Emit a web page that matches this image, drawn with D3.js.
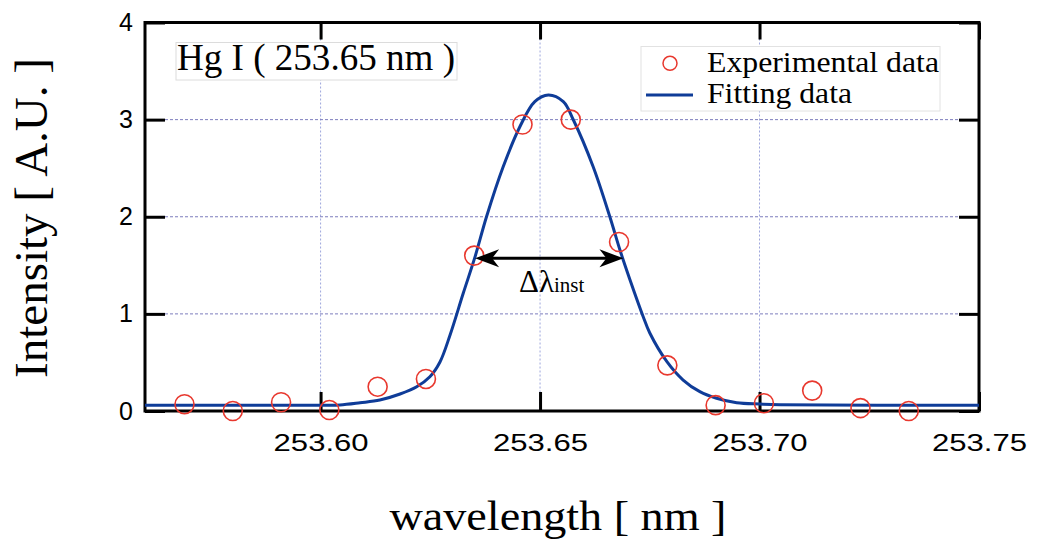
<!DOCTYPE html>
<html>
<head>
<meta charset="utf-8">
<script src="https://cdn.jsdelivr.net/npm/d3@7"></script>
<style>
  body { margin: 0; background: #fff; }
</style>
</head>
<body>
<div id="my_dataviz"></div>
<script>
// measured points (wavelength in nm, intensity in A.U.)
var wavelength = [253.569, 253.580, 253.591, 253.602, 253.613, 253.624, 253.635, 253.646,
                  253.657, 253.668, 253.679, 253.690, 253.701, 253.712, 253.723, 253.734];
var intensity = [0.07, 0.0, 0.09, 0.01, 0.25, 0.33, 1.60, 2.95,
                 3.00, 1.74, 0.47, 0.06, 0.08, 0.21, 0.03, 0.0];

// fitted curve
var fitWavelength = [253.5600, 253.5999, 253.6044, 253.6090, 253.6135, 253.6181, 253.6219, 253.6249,
                     253.6272, 253.6295, 253.6325, 253.6352, 253.6378, 253.6416, 253.6454, 253.6488,
                     253.6519, 253.6553, 253.6576, 253.6621, 253.6659, 253.6682, 253.6705, 253.6735,
                     253.6750, 253.6789, 253.6826, 253.6864, 253.6902, 253.6948, 253.7001, 253.7047,
                     253.7500];
var fitIntensity = [0.060, 0.060, 0.062, 0.085, 0.113, 0.175, 0.250, 0.353,
                    0.505, 0.783, 1.212, 1.589, 2.000, 2.515, 2.927, 3.185,
                    3.254, 3.185, 2.996, 2.515, 2.000, 1.658, 1.349, 0.971,
                    0.803, 0.508, 0.319, 0.199, 0.131, 0.085, 0.072, 0.065,
                    0.060];

// instrumental width arrow
var fwhmRange = [253.6352, 253.6690];
var fwhmLevel = 1.572;

var xTicks = [253.60, 253.65, 253.70, 253.75];
var yTicks = [0, 1, 2, 3, 4];

var margin = { top: 22.5, right: 58, bottom: 134, left: 145 },
    width = 1037 - margin.left - margin.right,
    height = 545 - margin.top - margin.bottom;

var svg = d3
    .select("#my_dataviz")
    .append("svg")
    .attr("width", width + margin.left + margin.right)
    .attr("height", height + margin.top + margin.bottom)
    .append("g")
    .attr("transform", "translate(" + margin.left + "," + margin.top + ")");

var x = d3.scaleLinear().domain([253.56, 253.75]).range([0, width]);
var y = d3.scaleLinear().domain([0, 4]).range([height, 0]);

// grid
svg.selectAll(".vgrid")
    .data(xTicks.slice(0, 3))
    .enter()
    .append("line")
    .attr("x1", function (d) { return x(d); })
    .attr("x2", function (d) { return x(d); })
    .attr("y1", 0)
    .attr("y2", height)
    .style("stroke", "#9ea6dc")
    .style("stroke-width", 1)
    .style("stroke-dasharray", "2,2");

svg.selectAll(".hgrid")
    .data(yTicks.slice(1, 4))
    .enter()
    .append("line")
    .attr("x1", 0)
    .attr("x2", width)
    .attr("y1", function (d) { return y(d); })
    .attr("y2", function (d) { return y(d); })
    .style("stroke", "#7d7dbd")
    .style("stroke-width", 1)
    .style("stroke-dasharray", "3,2");

// axes with inward ticks
var fmt = d3.format(".2f");
var xAxis = svg.append("g")
    .attr("transform", "translate(0," + height + ")")
    .call(d3.axisBottom(x).tickValues(xTicks).tickFormat(fmt).tickSize(-19).tickPadding(23));
var xTop = svg.append("g")
    .call(d3.axisTop(x).tickValues(xTicks).tickFormat("").tickSize(-17));
var yAxis = svg.append("g")
    .call(d3.axisLeft(y).tickValues(yTicks).tickFormat(d3.format("d")).tickSize(-20).tickPadding(12));
var yRight = svg.append("g")
    .attr("transform", "translate(" + width + ",0)")
    .call(d3.axisRight(y).tickValues(yTicks).tickFormat("").tickSize(-20));

[xAxis, xTop, yAxis, yRight].forEach(function (a) {
    a.select(".domain").remove();
    a.selectAll(".tick line").style("stroke", "#000").style("stroke-width", 3);
});
xAxis.selectAll("text")
    .style("font-family", "'Liberation Sans', Arial, sans-serif")
    .style("font-size", "24px")
    .attr("textLength", 95)
    .attr("lengthAdjust", "spacingAndGlyphs")
    .attr("x", -47.5)
    .style("text-anchor", "start")
    .attr("fill", "#000");
yAxis.selectAll("text")
    .style("font-family", "'Liberation Sans', Arial, sans-serif")
    .style("font-size", "25px")
    .attr("fill", "#000");

// frame
svg.append("rect")
    .attr("x", 0)
    .attr("y", 0)
    .attr("width", width)
    .attr("height", height)
    .style("fill", "none")
    .style("stroke", "#000")
    .style("stroke-width", 3);

// fitted line
var line = d3.line()
    .x(function (d, i) { return x(fitWavelength[i]); })
    .y(function (d) { return y(d); })
    .curve(d3.curveCatmullRom.alpha(0.5));

svg.append("path")
    .datum(fitIntensity)
    .attr("d", line)
    .style("fill", "none")
    .style("stroke", "#0f3c98")
    .style("stroke-width", 3);

// experimental points
svg.selectAll(".pt")
    .data(intensity)
    .enter()
    .append("circle")
    .attr("cx", function (d, i) { return x(wavelength[i]); })
    .attr("cy", function (d) { return y(d); })
    .attr("r", 9.5)
    .style("fill", "none")
    .style("stroke", "#e8382e")
    .style("stroke-width", 1.6);

// title box
var serif = "'Liberation Serif', 'Times New Roman', serif";
svg.append("rect")
    .attr("x", 31)
    .attr("y", 20)
    .attr("width", 281)
    .attr("height", 37.5)
    .style("fill", "#fff")
    .style("stroke", "#dcdcdc")
    .style("stroke-width", 1);
svg.append("text")
    .attr("x", 32)
    .attr("y", 47.5)
    .style("font-family", serif)
    .style("font-size", "37px")
    .attr("textLength", 278)
    .attr("lengthAdjust", "spacingAndGlyphs")
    .text("Hg I ( 253.65 nm )");

// legend
var legend = svg.append("g").attr("transform", "translate(496,24)");
legend.append("rect")
    .attr("width", 299)
    .attr("height", 64.5)
    .style("fill", "#fff")
    .style("stroke", "#e2e2e2")
    .style("stroke-width", 1);
legend.append("circle")
    .attr("cx", 29)
    .attr("cy", 16.8)
    .attr("r", 7)
    .style("fill", "none")
    .style("stroke", "#e8382e")
    .style("stroke-width", 1.5);
legend.append("line")
    .attr("x1", 5)
    .attr("x2", 52)
    .attr("y1", 48.5)
    .attr("y2", 48.5)
    .style("stroke", "#0f3c98")
    .style("stroke-width", 3);
legend.append("text")
    .attr("x", 66)
    .attr("y", 25.5)
    .style("font-family", serif)
    .style("font-size", "30px")
    .attr("textLength", 232)
    .attr("lengthAdjust", "spacingAndGlyphs")
    .text("Experimental data");
legend.append("text")
    .attr("x", 66)
    .attr("y", 56.5)
    .style("font-family", serif)
    .style("font-size", "30px")
    .attr("textLength", 145)
    .attr("lengthAdjust", "spacingAndGlyphs")
    .text("Fitting data");

// double arrow for the instrumental width
var ax1 = x(fwhmRange[0]), ax2 = x(fwhmRange[1]), ay = y(fwhmLevel);
svg.append("line")
    .attr("x1", ax1 + 15)
    .attr("x2", ax2 - 15)
    .attr("y1", ay)
    .attr("y2", ay)
    .style("stroke", "#000")
    .style("stroke-width", 3);
svg.append("path")
    .attr("d", "M" + ax1 + "," + ay + "L" + (ax1 + 24) + "," + (ay - 9) + "L" + (ax1 + 17) + "," + ay +
        "L" + (ax1 + 24) + "," + (ay + 9) + "Z")
    .style("fill", "#000");
svg.append("path")
    .attr("d", "M" + ax2 + "," + ay + "L" + (ax2 - 24) + "," + (ay - 9) + "L" + (ax2 - 17) + "," + ay +
        "L" + (ax2 - 24) + "," + (ay + 9) + "Z")
    .style("fill", "#000");

var dl = svg.append("text")
    .attr("x", 374)
    .attr("y", ay + 33.5)
    .style("font-family", serif)
    .style("font-size", "31px");
dl.append("tspan").text("Δλ");
dl.append("tspan")
    .style("font-size", "21px")
    .text("inst");

// axis labels
svg.append("text")
    .attr("x", 413)
    .attr("y", 507)
    .attr("text-anchor", "middle")
    .style("font-family", serif)
    .style("font-size", "42px")
    .attr("textLength", 337)
    .attr("lengthAdjust", "spacingAndGlyphs")
    .text("wavelength [ nm ]");

svg.append("text")
    .attr("transform", "translate(-98," + (218 - margin.top) + ") rotate(-90)")
    .attr("text-anchor", "middle")
    .style("font-family", serif)
    .style("font-size", "47px")
    .text("Intensity [ A.U. ]");
</script>
</body>
</html>
